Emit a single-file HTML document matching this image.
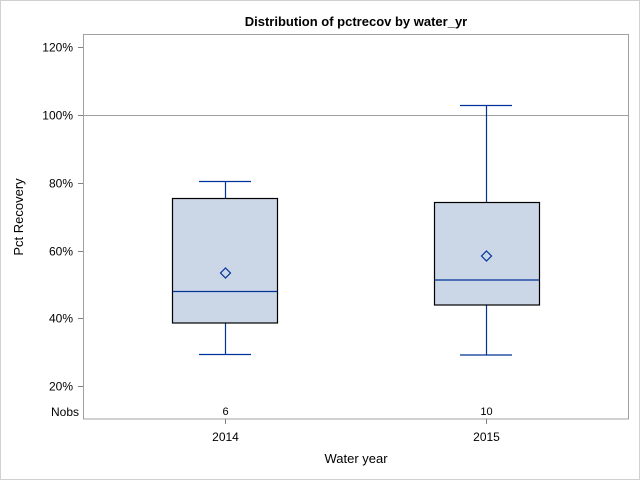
<!DOCTYPE html>
<html><head><meta charset="utf-8"><style>
body{margin:0;background:#fff}
svg{display:block}
text{font-family:"Liberation Sans",Arial,sans-serif;fill:#000}
</style></head><body>
<svg width="640" height="480" xmlns="http://www.w3.org/2000/svg">
<rect x="0.5" y="0.5" width="639" height="479" fill="#fff" stroke="#d0d0d0"/>
<text x="356" y="26" font-size="13" font-weight="bold" text-anchor="middle">Distribution of pctrecov by water_yr</text>
<rect x="83.5" y="34.5" width="545" height="384.5" fill="none" stroke="#a0a0a0"/>
<line x1="84" y1="115.5" x2="628" y2="115.5" stroke="#a0a0a0"/>
<g stroke="#808080">
<line x1="78" y1="47.5" x2="83" y2="47.5"/><line x1="78" y1="115.5" x2="83" y2="115.5"/>
<line x1="78" y1="183.5" x2="83" y2="183.5"/><line x1="78" y1="251.5" x2="83" y2="251.5"/>
<line x1="78" y1="318.5" x2="83" y2="318.5"/><line x1="78" y1="386.5" x2="83" y2="386.5"/>
<line x1="225.5" y1="419" x2="225.5" y2="424"/><line x1="486.5" y1="419" x2="486.5" y2="424"/>
</g>
<g font-size="12" text-anchor="end">
<text x="73" y="51.5">120%</text><text x="73" y="119.5">100%</text>
<text x="73" y="187.5">80%</text><text x="73" y="255.5">60%</text>
<text x="73" y="322.5">40%</text><text x="73" y="390.5">20%</text>
<text x="79" y="416">Nobs</text>
</g>
<text x="225.5" y="415" font-size="11" text-anchor="middle">6</text>
<text x="486.5" y="415" font-size="11" text-anchor="middle">10</text>
<text x="225.5" y="441" font-size="12" text-anchor="middle">2014</text>
<text x="486.5" y="441" font-size="12" text-anchor="middle">2015</text>
<text x="356" y="463" font-size="13" text-anchor="middle">Water year</text>
<text transform="translate(23,217) rotate(-90)" font-size="13" text-anchor="middle">Pct Recovery</text>
<g stroke="#003399" stroke-width="1.2" fill="none">
<line x1="225.5" y1="181.5" x2="225.5" y2="354.5"/><line x1="199" y1="181.5" x2="251" y2="181.5"/><line x1="199" y1="354.5" x2="251" y2="354.5"/>
<line x1="486.5" y1="105.5" x2="486.5" y2="355"/><line x1="460" y1="105.5" x2="512" y2="105.5"/><line x1="460" y1="355" x2="512" y2="355"/>
</g>
<rect x="172.5" y="198.5" width="105" height="124.5" fill="#cbd6e6" stroke="#000" stroke-width="1.2"/>
<rect x="434.5" y="202.5" width="105" height="102.5" fill="#cbd6e6" stroke="#000" stroke-width="1.2"/>
<g stroke="#003399" stroke-width="1.2" fill="none">
<line x1="173" y1="291.5" x2="277" y2="291.5"/>
<line x1="435" y1="280" x2="539" y2="280"/>
<path d="M225.5 268 L230.5 273 L225.5 278 L220.5 273 Z"/>
<path d="M486.5 251 L491.5 256 L486.5 261 L481.5 256 Z"/>
</g>
</svg>
</body></html>
